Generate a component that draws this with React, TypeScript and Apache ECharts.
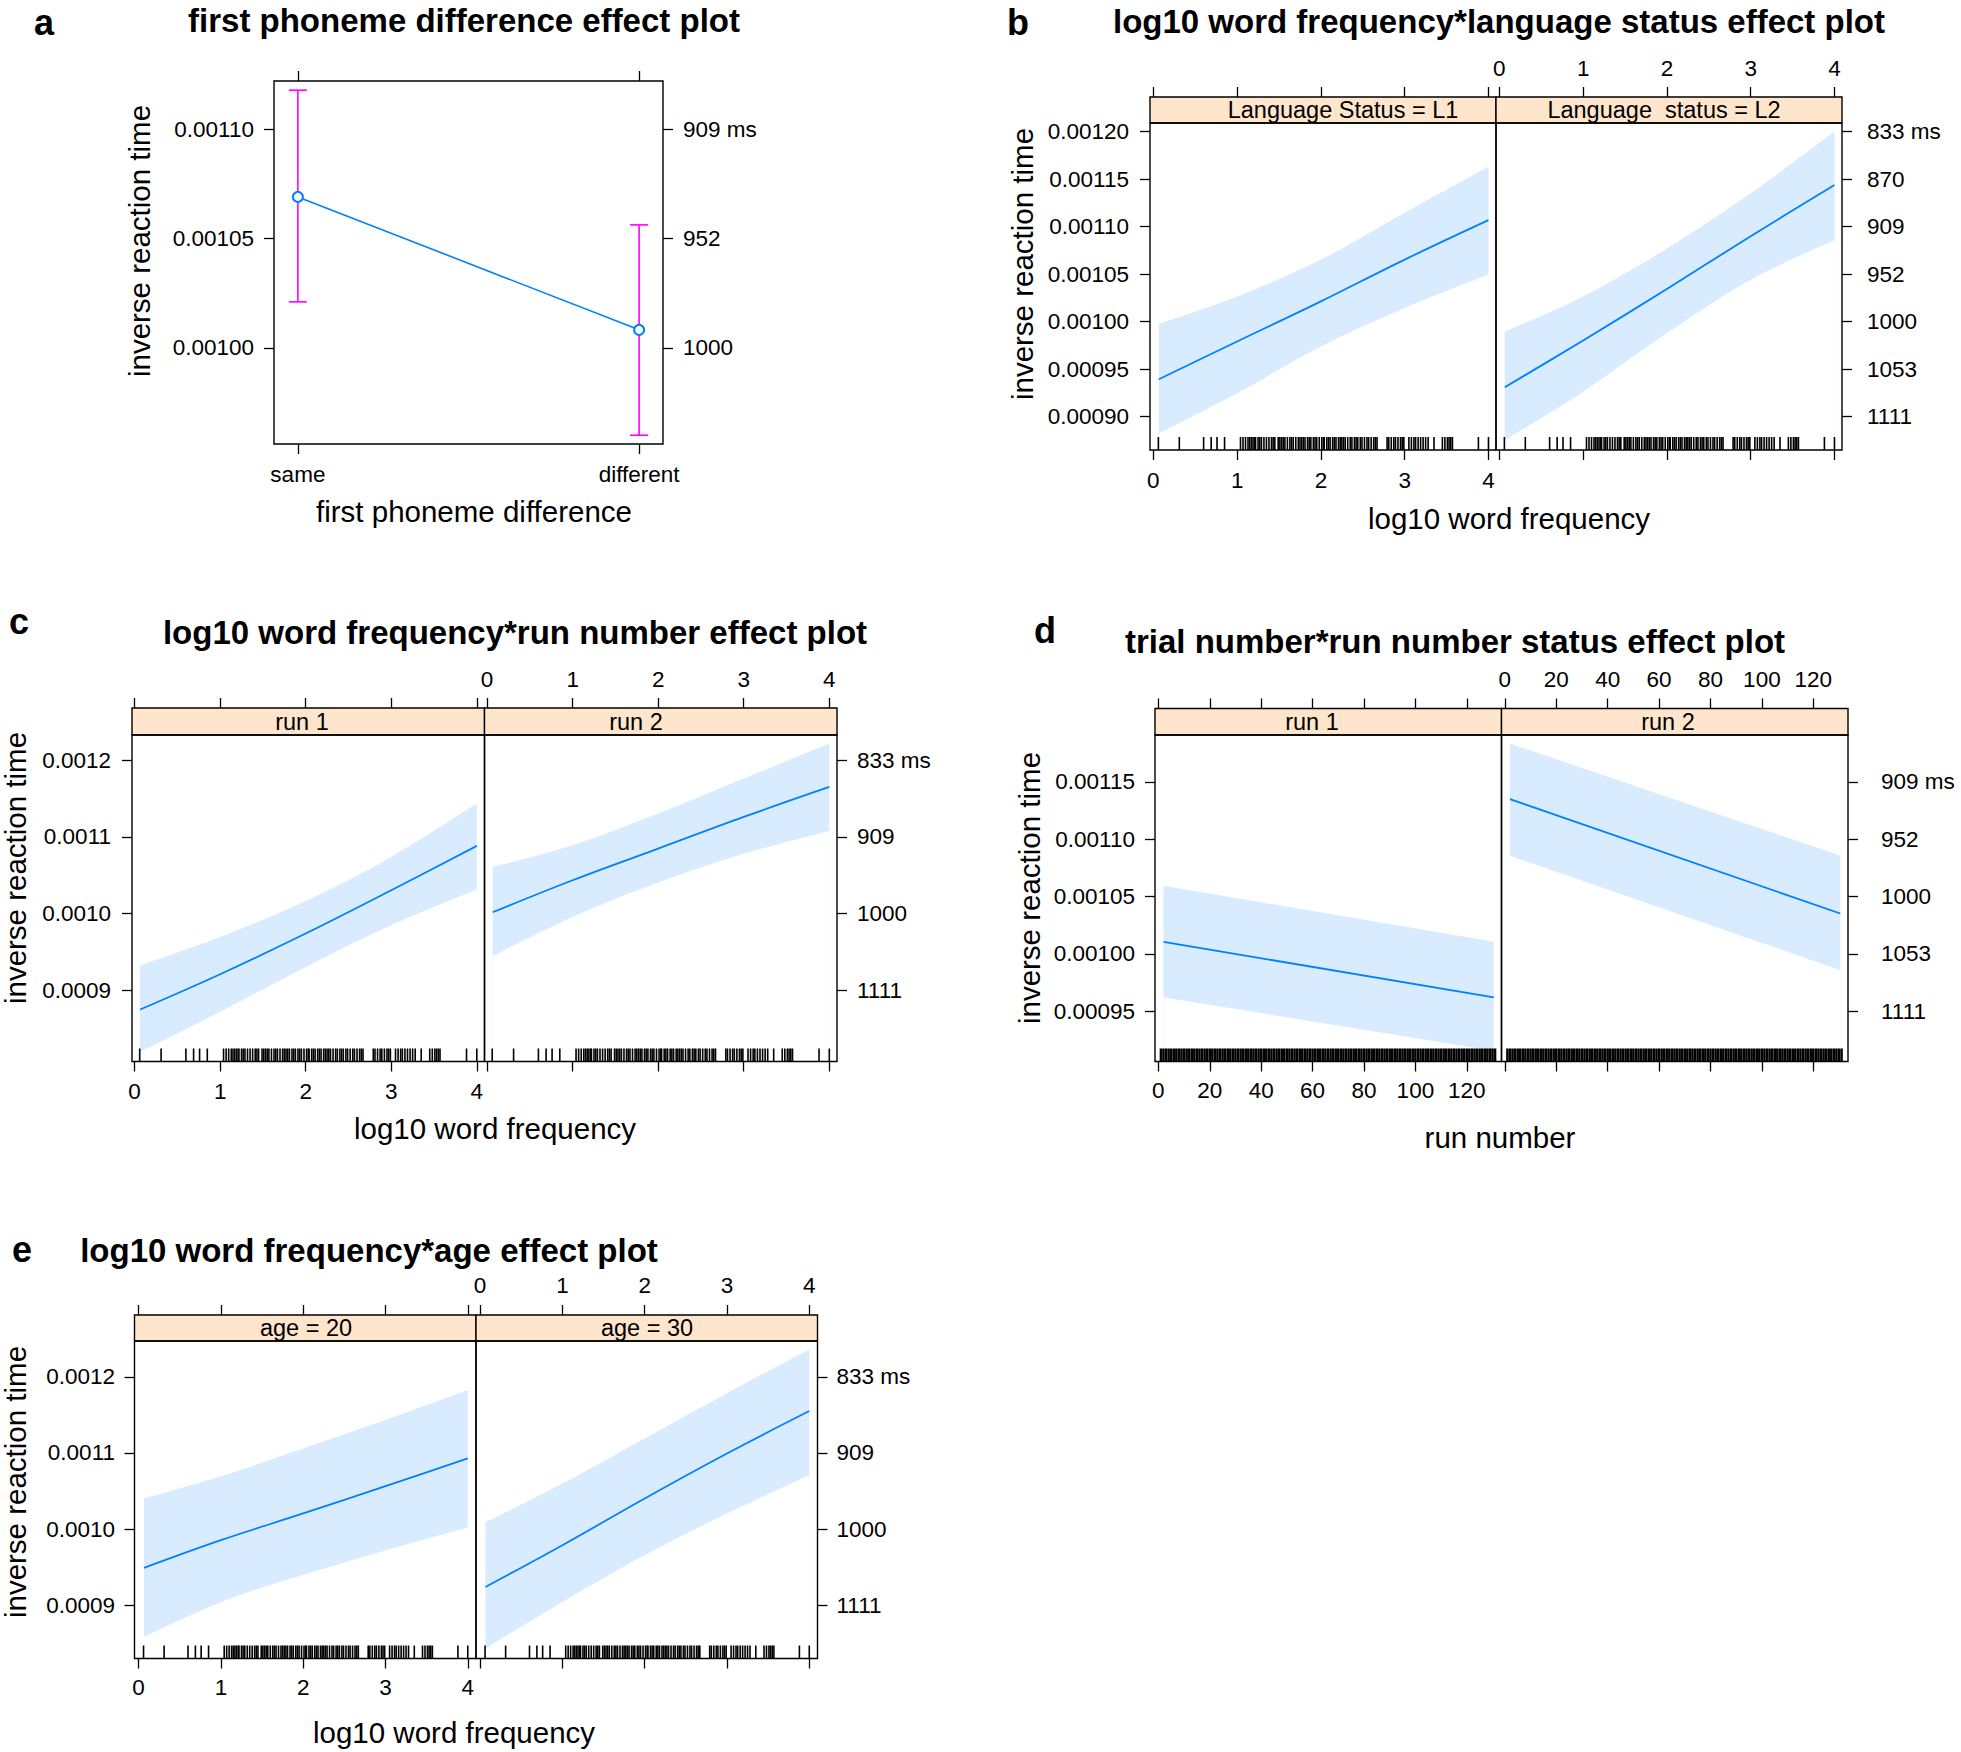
import React, { useEffect, useRef } from "react";
import * as echarts from "echarts";

const FONT = "'Liberation Sans', Arial, Helvetica, sans-serif";
const LINE_BLUE = "#0080FF";
const BAND_FILL = "#D9EBFF";
const STRIP_FILL = "#FFE5CC";
const ERR_MAGENTA = "#FF00FF";

// ---------- Panel a ----------
const aCategories = ["same", "different"];
const aCatPos = [0, 1];
const aFit = [0.001069, 0.0010082];
const aUpper = [0.0011178, 0.0010562];
const aLower = [0.001021, 0.00096];
const aYTicks = [0.001, 0.00105, 0.0011];
const aYLabels = ["0.00100", "0.00105", "0.00110"];
const aRightLabels = ["1000", "952", "909 ms"];

// ---------- shared word-frequency axis ----------
const freqX = [0.065, 1, 2, 3, 4];
const freqTicks = [0, 1, 2, 3, 4];
const freqTickLabels = ["0", "1", "2", "3", "4"];
const freqRug = [
  0.06, 0.31, 0.6, 0.69, 0.76, 0.85, 1.04, 1.07, 1.1, 1.13, 1.15, 1.17, 1.19, 1.21, 1.22, 1.25, 1.27,
  1.29, 1.32, 1.35, 1.38, 1.41, 1.43, 1.45, 1.49, 1.51, 1.53, 1.55, 1.57, 1.6, 1.63, 1.65, 1.67, 1.7,
  1.73, 1.75, 1.77, 1.79, 1.81, 1.84, 1.86, 1.88, 1.91, 1.93, 1.95, 1.98, 2.01, 2.03, 2.04, 2.07, 2.09,
  2.11, 2.14, 2.16, 2.18, 2.21, 2.23, 2.25, 2.27, 2.29, 2.32, 2.35, 2.37, 2.4, 2.42, 2.44, 2.47, 2.49,
  2.52, 2.55, 2.57, 2.6, 2.63, 2.65, 2.67, 2.79, 2.81, 2.84, 2.87, 2.89, 2.92, 2.95, 2.97, 2.99, 3.05,
  3.08, 3.11, 3.13, 3.16, 3.19, 3.22, 3.25, 3.28, 3.35, 3.45, 3.48, 3.51, 3.53, 3.55, 3.57, 3.88, 4.0,
];

// ---------- Panel b ----------
const bStrips = ["Language Status = L1", "Language  status = L2"];
const bL1Fit = [0.0009394, 0.0009791, 0.0010213, 0.0010653, 0.0011068];
const bL1Upper = [0.0009978, 0.0010266, 0.0010653, 0.0011146, 0.0011631];
const bL1Lower = [0.0008825, 0.0009247, 0.0009738, 0.0010143, 0.0010495];
const bL2Fit = [0.000931, 0.0009802, 0.0010344, 0.0010899, 0.0011437];
const bL2Upper = [0.0009897, 0.0010265, 0.001077, 0.001135, 0.0012];
const bL2Lower = [0.0008754, 0.0009264, 0.000988, 0.0010442, 0.0010857];
const bYTicks = [0.0009, 0.00095, 0.001, 0.00105, 0.0011, 0.00115, 0.0012];
const bYLabels = ["0.00090", "0.00095", "0.00100", "0.00105", "0.00110", "0.00115", "0.00120"];
const bRightLabels = ["1111", "1053", "1000", "952", "909", "870", "833 ms"];

// ---------- Panel c ----------
const cStrips = ["run 1", "run 2"];
const cR1Fit = [0.0008748, 0.0009209, 0.000974, 0.0010304, 0.0010883];
const cR1Upper = [0.0009326, 0.0009696, 0.0010165, 0.0010739, 0.0011435];
const cR1Lower = [0.0008196, 0.0008718, 0.0009304, 0.0009848, 0.0010313];
const cR2Fit = [0.0010017, 0.0010435, 0.0010848, 0.0011261, 0.0011652];
const cR2Upper = [0.0010609, 0.0010891, 0.0011305, 0.0011761, 0.0012218];
const cR2Lower = [0.0009444, 0.0009956, 0.0010405, 0.001078, 0.0011078];
const cYTicks = [0.0009, 0.001, 0.0011, 0.0012];
const cYLabels = ["0.0009", "0.0010", "0.0011", "0.0012"];
const cRightLabels = ["1111", "1000", "909", "833 ms"];

// ---------- Panel d ----------
const dStrips = ["run 1", "run 2"];
const dX = [2, 130.5];
const dR1Fit = [0.0010105, 0.0009619];
const dR1Upper = [0.0010594, 0.0010105];
const dR1Lower = [0.0009621, 0.0009153];
const dR2Fit = [0.001135, 0.0010352];
const dR2Upper = [0.0011836, 0.0010857];
const dR2Lower = [0.0010857, 0.0009858];
const dXTicks = [0, 20, 40, 60, 80, 100, 120];
const dXLabels = ["0", "20", "40", "60", "80", "100", "120"];
const dYTicks = [0.00095, 0.001, 0.00105, 0.0011, 0.00115];
const dYLabels = ["0.00095", "0.00100", "0.00105", "0.00110", "0.00115"];
const dRightLabels = ["1111", "1053", "1000", "952", "909 ms"];
const dTrialRug = [
  1, 2, 3, 4, 5, 6, 7, 8, 9, 10, 11, 12, 13, 14, 15, 16, 17, 18, 19, 20, 21, 22, 23, 24, 25, 26, 27, 28,
  29, 30, 31, 32, 33, 34, 35, 36, 37, 38, 39, 40, 41, 42, 43, 44, 45, 46, 47, 48, 49, 50, 51, 52, 53, 54,
  55, 56, 57, 58, 59, 60, 61, 62, 63, 64, 65, 66, 67, 68, 69, 70, 71, 72, 73, 74, 75, 76, 77, 78, 79, 80,
  81, 82, 83, 84, 85, 86, 87, 88, 89, 90, 91, 92, 93, 94, 95, 96, 97, 98, 99, 100, 101, 102, 103, 104,
  105, 106, 107, 108, 109, 110, 111, 112, 113, 114, 115, 116, 117, 118, 119, 120, 121, 122, 123, 124,
  125, 126, 127, 128, 129, 130, 131,
];

// ---------- Panel e ----------
const eStrips = ["age = 20", "age = 30"];
const eA20Fit = [0.000949, 0.0009854, 0.0010205, 0.0010564, 0.0010928];
const eA20Upper = [0.0010402, 0.0010695, 0.0011059, 0.0011431, 0.0011825];
const eA20Lower = [0.0008583, 0.000904, 0.00094, 0.000972, 0.0010021];
const eA30Fit = [0.000924, 0.0009788, 0.0010402, 0.0010993, 0.001155];
const eA30Upper = [0.0010087, 0.0010599, 0.0011191, 0.0011785, 0.001236];
const eA30Lower = [0.0008431, 0.0009043, 0.0009657, 0.0010205, 0.0010708];

// ---------- text ----------
const TITLES = {
  a: "first phoneme difference effect plot",
  b: "log10 word frequency*language status effect plot",
  c: "log10 word frequency*run number effect plot",
  d: "trial number*run number status effect plot",
  e: "log10 word frequency*age effect plot",
};
const Y_TITLE = "inverse reaction time";
const X_TITLES = {
  a: "first phoneme difference",
  b: "log10 word frequency",
  c: "log10 word frequency",
  d: "run number",
  e: "log10 word frequency",
};

const TICK_FS = 22.5;
const SMOOTH = 0.35;

function lookup(ticks: number[], labels: string[]) {
  return (v: number) => {
    const i = ticks.findIndex((t) => Math.abs(t - v) < 1e-9);
    return i >= 0 ? labels[i] : "";
  };
}

function xAxisDef(gi: number, pos: string, range: number[], ticks: number[], labels: string[], showLabel: boolean, margin: number, offset = 0) {
  return {
    gridIndex: gi,
    type: "value",
    position: pos,
    offset,
    min: range[0],
    max: range[1],
    axisLine: { show: false, onZero: false },
    splitLine: { show: false },
    axisTick: { show: true, inside: false, length: 10, lineStyle: { color: "#000", width: 1.3 }, customValues: ticks },
    axisLabel: {
      show: showLabel,
      customValues: ticks,
      formatter: lookup(ticks, labels),
      margin,
      color: "#000",
      fontSize: TICK_FS,
      fontFamily: FONT,
    },
  };
}

function yAxisDef(gi: number, pos: string, range: number[], ticks: number[], labels: string[], show: boolean, margin: number) {
  return {
    gridIndex: gi,
    type: "value",
    position: pos,
    min: range[0],
    max: range[1],
    axisLine: { show: false, onZero: false },
    splitLine: { show: false },
    axisTick: { show, inside: false, length: 10, lineStyle: { color: "#000", width: 1.3 }, customValues: ticks },
    axisLabel: {
      show,
      customValues: ticks,
      formatter: lookup(ticks, labels),
      margin,
      color: "#000",
      fontSize: TICK_FS,
      fontFamily: FONT,
    },
  };
}

function textEl(text: string, x: number, y: number, fontSize: number, bold: boolean, align = "center", rotation = 0) {
  return {
    type: "text",
    x,
    y,
    rotation,
    silent: true,
    style: {
      text,
      fill: "#000",
      fontSize,
      fontWeight: bold ? "bold" : "normal",
      fontFamily: FONT,
      textAlign: align,
      textVerticalAlign: "middle",
    },
  };
}

function gridDef(left: number, top: number, width: number, height: number) {
  return { left, top, width, height, show: true, z: 10, borderColor: "#000", borderWidth: 1.4, backgroundColor: "transparent" };
}

type Sub = { strip: string; stripX: number; x: number[]; fit: number[]; upper: number[]; lower: number[] };
type Lattice = {
  lefts: number[];
  width: number;
  top: number;
  height: number;
  stripH: number;
  xRange: number[];
  yRange: number[];
  xTicks: number[];
  xLabels: string[];
  yTicks: number[];
  yLabels: string[];
  rightLabels: string[];
  rug: number[];
  rugWidth: number;
  m: { left: number; right: number; top: number; bottom: number };
  subs: Sub[];
};

function addLattice(opt: any, cfg: Lattice) {
  cfg.subs.forEach((sub, i) => {
    const gi = opt.grid.length;
    const last = i === cfg.subs.length - 1;
    opt.grid.push(gridDef(cfg.lefts[i], cfg.top, cfg.width, cfg.height));
    const xb = opt.xAxis.length;
    opt.xAxis.push(xAxisDef(gi, "bottom", cfg.xRange, cfg.xTicks, cfg.xLabels, i === 0, cfg.m.bottom));
    opt.xAxis.push(xAxisDef(gi, "top", cfg.xRange, cfg.xTicks, cfg.xLabels, last, cfg.m.top, cfg.stripH));
    const yl = opt.yAxis.length;
    opt.yAxis.push(yAxisDef(gi, "left", cfg.yRange, cfg.yTicks, cfg.yLabels, i === 0, cfg.m.left));
    opt.yAxis.push(yAxisDef(gi, "right", cfg.yRange, cfg.yTicks, cfg.rightLabels, last, cfg.m.right));

    // upper edge of the confidence band: filled down to the panel floor
    opt.series.push({
      type: "line",
      xAxisIndex: xb,
      yAxisIndex: yl,
      silent: true,
      z: 1,
      symbol: "none",
      smooth: SMOOTH,
      lineStyle: { width: 0, opacity: 0 },
      areaStyle: { color: BAND_FILL, opacity: 1, origin: "start" },
      data: sub.x.map((x, k) => [x, sub.upper[k]]),
    });
    // lower edge: white fill below it leaves only the band between the edges
    opt.series.push({
      type: "line",
      xAxisIndex: xb,
      yAxisIndex: yl,
      silent: true,
      z: 1.5,
      symbol: "none",
      smooth: SMOOTH,
      lineStyle: { width: 0, opacity: 0 },
      areaStyle: { color: "#FFFFFF", opacity: 1, origin: "start" },
      data: sub.x.map((x, k) => [x, sub.lower[k]]),
    });
    opt.series.push({
      type: "line",
      xAxisIndex: xb,
      yAxisIndex: yl,
      silent: true,
      z: 2,
      symbol: "none",
      smooth: SMOOTH,
      lineStyle: { color: LINE_BLUE, width: 1.8 },
      data: sub.x.map((x, k) => [x, sub.fit[k]]),
    });
    opt.series.push({
      type: "custom",
      xAxisIndex: xb,
      yAxisIndex: yl,
      silent: true,
      z: 3,
      data: cfg.rug.map((v) => [v, cfg.yRange[0]]),
      encode: { x: 0, y: 1 },
      renderItem: (params: any, api: any) => {
        const p = api.coord([api.value(0), api.value(1)]);
        return {
          type: "line",
          shape: { x1: p[0], y1: p[1], x2: p[0], y2: p[1] - 13 },
          style: { stroke: "#000", lineWidth: cfg.rugWidth },
        };
      },
    });

    opt.graphic.push({
      type: "rect",
      silent: true,
      shape: { x: cfg.lefts[i], y: cfg.top - cfg.stripH, width: cfg.width, height: cfg.stripH },
      style: { fill: STRIP_FILL, stroke: "#000", lineWidth: 1.4 },
    });
    opt.graphic.push(textEl(sub.strip, sub.stripX, cfg.top - cfg.stripH / 2, 23.5, false));
  });
}

function buildOption() {
  const opt: any = {
    animation: false,
    backgroundColor: "#fff",
    grid: [],
    xAxis: [],
    yAxis: [],
    series: [],
    graphic: [],
  };

  // ---------- Panel a ----------
  const aX = [-0.07, 1.07];
  const aY = [0.000956, 0.001122];
  opt.grid.push(gridDef(274, 81, 389, 363));
  opt.xAxis.push(xAxisDef(0, "bottom", aX, aCatPos, aCategories, true, 19));
  opt.xAxis.push(xAxisDef(0, "top", aX, aCatPos, aCategories, false, 10));
  opt.yAxis.push(yAxisDef(0, "left", aY, aYTicks, aYLabels, true, 20));
  opt.yAxis.push(yAxisDef(0, "right", aY, aYTicks, aRightLabels, true, 20));
  opt.series.push({
    type: "custom",
    xAxisIndex: 0,
    yAxisIndex: 0,
    silent: true,
    z: 1,
    data: aCatPos.map((x, k) => [x, aUpper[k], aLower[k]]),
    encode: { x: 0, y: [1, 2] },
    renderItem: (params: any, api: any) => {
      const top = api.coord([api.value(0), api.value(1)]);
      const bot = api.coord([api.value(0), api.value(2)]);
      const hw = 9;
      const st = { stroke: ERR_MAGENTA, lineWidth: 1.6 };
      return {
        type: "group",
        children: [
          { type: "line", shape: { x1: top[0], y1: top[1], x2: bot[0], y2: bot[1] }, style: st },
          { type: "line", shape: { x1: top[0] - hw, y1: top[1], x2: top[0] + hw, y2: top[1] }, style: st },
          { type: "line", shape: { x1: bot[0] - hw, y1: bot[1], x2: bot[0] + hw, y2: bot[1] }, style: st },
        ],
      };
    },
  });
  opt.series.push({
    type: "line",
    xAxisIndex: 0,
    yAxisIndex: 0,
    silent: true,
    z: 2,
    symbol: "emptyCircle",
    symbolSize: 10,
    lineStyle: { color: LINE_BLUE, width: 1.6 },
    itemStyle: { color: LINE_BLUE, borderColor: LINE_BLUE, borderWidth: 1.4 },
    data: aCatPos.map((x, k) => [x, aFit[k]]),
  });
  opt.graphic.push(textEl("a", 34, 22, 36, true, "left"));
  opt.graphic.push(textEl(TITLES.a, 464, 20, 33, true));
  opt.graphic.push(textEl(Y_TITLE, 139, 241, 29.5, false, "center", Math.PI / 2));
  opt.graphic.push(textEl(X_TITLES.a, 474, 511, 29.5, false));

  // ---------- Panel b ----------
  addLattice(opt, {
    lefts: [1150, 1496],
    width: 346,
    top: 123,
    height: 327,
    stripH: 26,
    xRange: [-0.04, 4.09],
    yRange: [0.000865, 0.001209],
    xTicks: freqTicks,
    xLabels: freqTickLabels,
    yTicks: bYTicks,
    yLabels: bYLabels,
    rightLabels: bRightLabels,
    rug: freqRug,
    rugWidth: 1.6,
    m: { left: 21, right: 25, top: 17.5, bottom: 18.5 },
    subs: [
      { strip: bStrips[0], stripX: 1343, x: freqX, fit: bL1Fit, upper: bL1Upper, lower: bL1Lower },
      { strip: bStrips[1], stripX: 1664, x: freqX, fit: bL2Fit, upper: bL2Upper, lower: bL2Lower },
    ],
  });
  opt.graphic.push(textEl("b", 1007, 22, 36, true, "left"));
  opt.graphic.push(textEl(TITLES.b, 1499, 21, 33, true));
  opt.graphic.push(textEl(Y_TITLE, 1022, 264, 29.5, false, "center", Math.PI / 2));
  opt.graphic.push(textEl(X_TITLES.b, 1509, 518, 29.5, false));

  // ---------- Panel c ----------
  addLattice(opt, {
    lefts: [132, 484.5],
    width: 352.5,
    top: 735,
    height: 326.5,
    stripH: 27,
    xRange: [-0.03, 4.09],
    yRange: [0.000807, 0.001233],
    xTicks: freqTicks,
    xLabels: freqTickLabels,
    yTicks: cYTicks,
    yLabels: cYLabels,
    rightLabels: cRightLabels,
    rug: freqRug,
    rugWidth: 1.6,
    m: { left: 21, right: 20, top: 17, bottom: 18 },
    subs: [
      { strip: cStrips[0], stripX: 302, x: freqX, fit: cR1Fit, upper: cR1Upper, lower: cR1Lower },
      { strip: cStrips[1], stripX: 636, x: freqX, fit: cR2Fit, upper: cR2Upper, lower: cR2Lower },
    ],
  });
  opt.graphic.push(textEl("c", 9, 621, 36, true, "left"));
  opt.graphic.push(textEl(TITLES.c, 515, 632, 33, true));
  opt.graphic.push(textEl(Y_TITLE, 15, 868, 29.5, false, "center", Math.PI / 2));
  opt.graphic.push(textEl(X_TITLES.c, 495, 1128, 29.5, false));

  // ---------- Panel d ----------
  addLattice(opt, {
    lefts: [1155, 1501.5],
    width: 346.5,
    top: 735,
    height: 326.5,
    stripH: 26.5,
    xRange: [-1.3, 133.5],
    yRange: [0.000906, 0.001191],
    xTicks: dXTicks,
    xLabels: dXLabels,
    yTicks: dYTicks,
    yLabels: dYLabels,
    rightLabels: dRightLabels,
    rug: dTrialRug,
    rugWidth: 2.5,
    m: { left: 20, right: 33, top: 17.5, bottom: 17.5 },
    subs: [
      { strip: dStrips[0], stripX: 1312, x: dX, fit: dR1Fit, upper: dR1Upper, lower: dR1Lower },
      { strip: dStrips[1], stripX: 1668, x: dX, fit: dR2Fit, upper: dR2Upper, lower: dR2Lower },
    ],
  });
  opt.graphic.push(textEl("d", 1034, 630, 36, true, "left"));
  opt.graphic.push(textEl(TITLES.d, 1455, 641, 33, true));
  opt.graphic.push(textEl(Y_TITLE, 1029, 888, 29.5, false, "center", Math.PI / 2));
  opt.graphic.push(textEl(X_TITLES.d, 1500, 1137, 29.5, false));

  // ---------- Panel e ----------
  addLattice(opt, {
    lefts: [134.5, 476],
    width: 341.5,
    top: 1341,
    height: 317.5,
    stripH: 26,
    xRange: [-0.05, 4.1],
    yRange: [0.00083, 0.001247],
    xTicks: freqTicks,
    xLabels: freqTickLabels,
    yTicks: cYTicks,
    yLabels: cYLabels,
    rightLabels: cRightLabels,
    rug: freqRug,
    rugWidth: 1.6,
    m: { left: 19.5, right: 19, top: 18, bottom: 17.5 },
    subs: [
      { strip: eStrips[0], stripX: 306, x: freqX, fit: eA20Fit, upper: eA20Upper, lower: eA20Lower },
      { strip: eStrips[1], stripX: 647, x: freqX, fit: eA30Fit, upper: eA30Upper, lower: eA30Lower },
    ],
  });
  opt.graphic.push(textEl("e", 12, 1249, 36, true, "left"));
  opt.graphic.push(textEl(TITLES.e, 369, 1250, 33, true));
  opt.graphic.push(textEl(Y_TITLE, 15, 1482, 29.5, false, "center", Math.PI / 2));
  opt.graphic.push(textEl(X_TITLES.e, 454, 1732, 29.5, false));

  return opt;
}

export default function App() {
  const ref = useRef<HTMLDivElement>(null);
  useEffect(() => {
    if (!ref.current) return;
    const chart = echarts.init(ref.current, null, { renderer: "svg" });
    chart.setOption(buildOption());
    return () => chart.dispose();
  }, []);
  return (
    <div
      ref={ref}
      style={{ position: "absolute", left: 0, top: 0, width: 1961, height: 1752, background: "#fff" }}
    />
  );
}
